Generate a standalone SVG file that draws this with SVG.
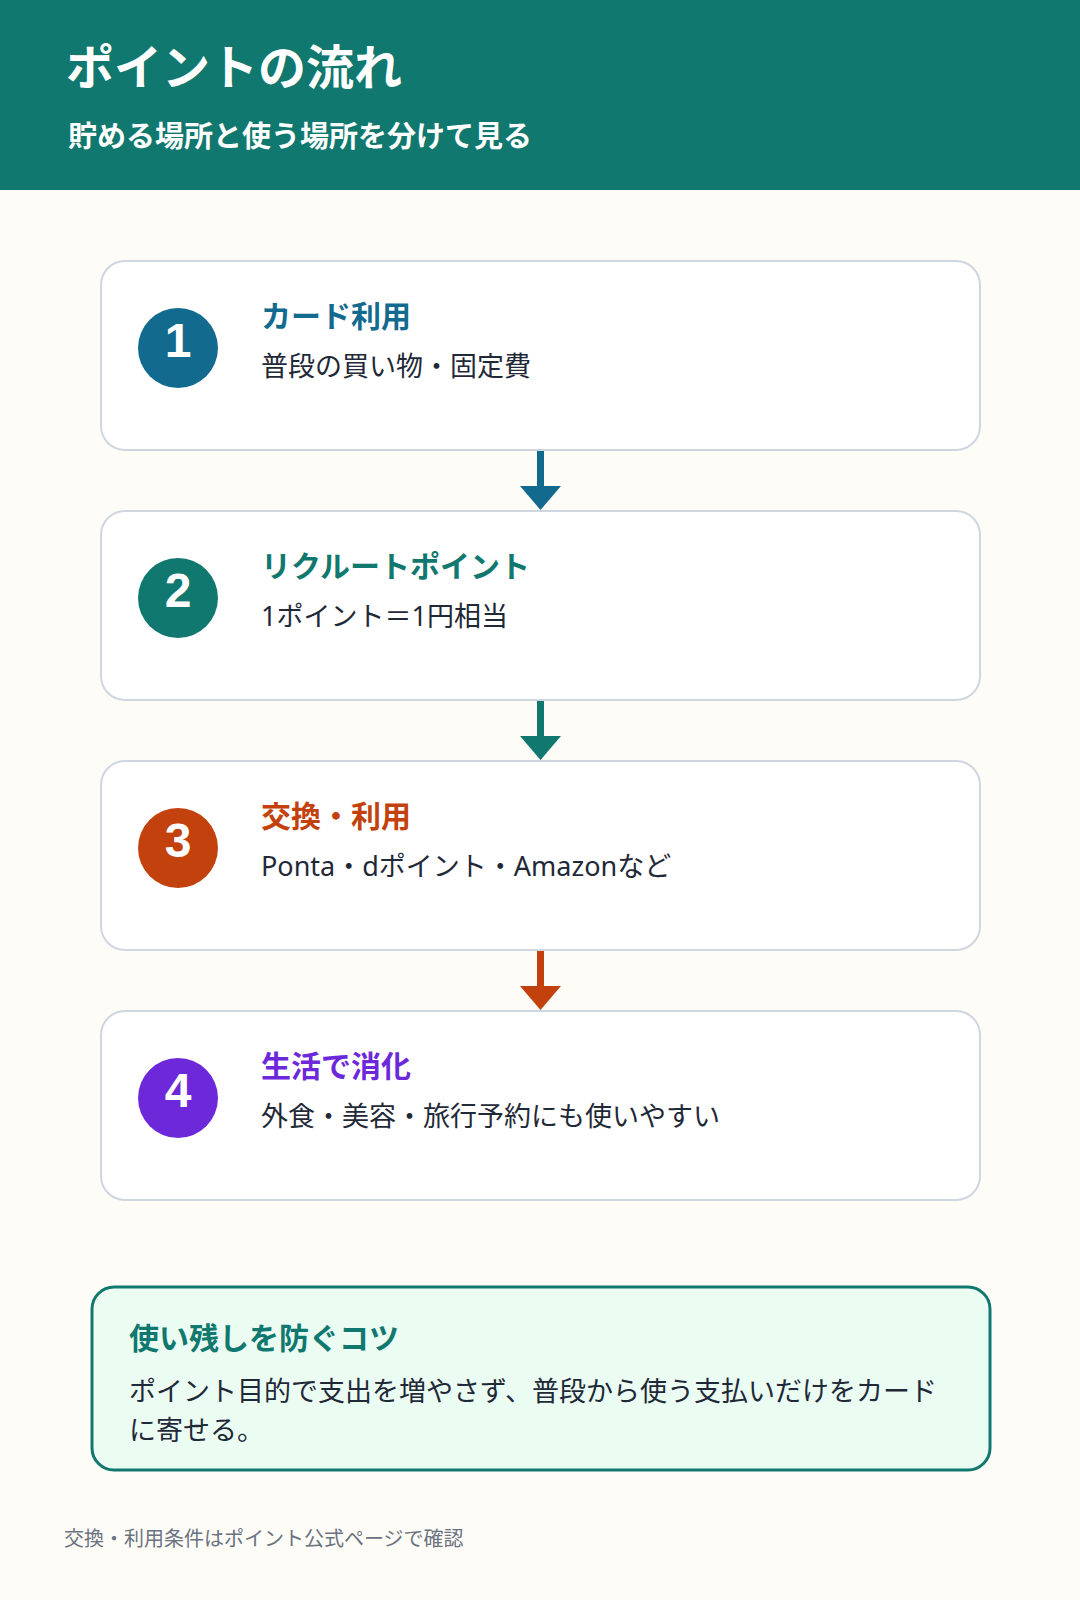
<svg xmlns="http://www.w3.org/2000/svg" width="1080" height="1600" viewBox="0 0 1080 1600">
<style>
text{font-family:"Noto Sans","Noto Sans CJK JP",sans-serif}
.card{fill:#ffffff;stroke:#cfd6e0;stroke-width:2}
.num{fill:#ffffff;font-family:"Liberation Sans",Arial,sans-serif;font-size:48px;font-weight:700;text-anchor:middle}
.ttl{font-size:30px;font-weight:700}
.desc{font-size:27px;fill:#1f2937}
</style>
<rect width="1080" height="1600" fill="#fdfcf7"/>
<g id="header">
<rect x="0" y="0" width="1080" height="190" fill="#10786e"/>
<text x="66" y="85" font-size="48" font-weight="700" fill="#ffffff">ポイントの流れ</text>
<text x="68" y="147" font-size="29" font-weight="700" fill="#ffffff">貯める場所と使う場所を分けて見る</text>
</g>
<g id="connectors">
<rect x="537" y="450" width="7" height="36" fill="#136a8f"/>
<polygon points="520,486 561,486 540.5,510" fill="#136a8f"/>
<rect x="537" y="700" width="7" height="36" fill="#10786e"/>
<polygon points="520,736 561,736 540.5,760" fill="#10786e"/>
<rect x="537" y="950" width="7" height="36" fill="#c2410c"/>
<polygon points="520,986 561,986 540.5,1010" fill="#c2410c"/>
</g>
<g id="node1">
<rect class="card" x="101" y="261" width="879" height="189" rx="24"/>
<circle cx="178" cy="348" r="40" fill="#136a8f"/>
<text class="num" x="178" y="357">1</text>
<text class="ttl" x="261" y="327" fill="#136a8f">カード利用</text>
<text class="desc" x="261" y="376">普段の買い物・固定費</text>
</g>
<g id="node2">
<rect class="card" x="101" y="511" width="879" height="189" rx="24"/>
<circle cx="178" cy="598" r="40" fill="#10786e"/>
<text class="num" x="178" y="607">2</text>
<text class="ttl" x="261" y="577" fill="#10786e">リクルートポイント</text>
<text class="desc" x="261" y="626">1ポイント＝1円相当</text>
</g>
<g id="node3">
<rect class="card" x="101" y="761" width="879" height="189" rx="24"/>
<circle cx="178" cy="848" r="40" fill="#c2410c"/>
<text class="num" x="178" y="857">3</text>
<text class="ttl" x="261" y="827" fill="#c2410c">交換・利用</text>
<text class="desc" x="261" y="876">Ponta・dポイント・Amazonなど</text>
</g>
<g id="node4">
<rect class="card" x="101" y="1011" width="879" height="189" rx="24"/>
<circle cx="178" cy="1098" r="40" fill="#6d28d9"/>
<text class="num" x="178" y="1107">4</text>
<text class="ttl" x="261" y="1077" fill="#6d28d9">生活で消化</text>
<text class="desc" x="261" y="1126">外食・美容・旅行予約にも使いやすい</text>
</g>
<g id="tip">
<rect x="92" y="1287" width="898" height="183" rx="22" fill="#ebfcf3" stroke="#10786e" stroke-width="3"/>
<text x="129" y="1349" font-size="30" font-weight="700" fill="#10786e">使い残しを防ぐコツ</text>
<text x="129" y="1401" font-size="27" fill="#1f2937">ポイント目的で支出を増やさず、普段から使う支払いだけをカード</text>
<text x="129" y="1440" font-size="27" fill="#1f2937">に寄せる。</text>
</g>
<g id="footer">
<text x="64" y="1546" font-size="20" fill="#6b7280">交換・利用条件はポイント公式ページで確認</text>
</g>
</svg>
